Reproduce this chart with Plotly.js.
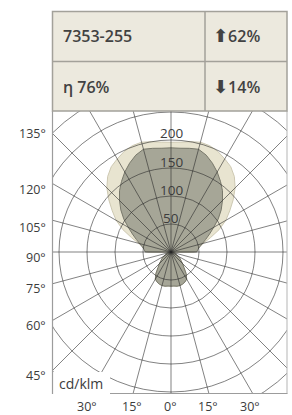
<!DOCTYPE html>
<html><head><meta charset="utf-8">
<script src="https://cdn.plot.ly/plotly-3.0.1.min.js"></script>
<style>
html,body{margin:0;padding:0;overflow:hidden;background:#fff;width:292px;height:415px}
#wrap{position:relative;width:292px;height:415px;overflow:hidden}
#chart{position:absolute;left:-60px;top:-40px;width:480px;height:500px}
</style>
</head><body><div id="wrap"><div id="chart"></div></div>
<script>
// ---- data (cd/klm per angle, 0° = straight down, 180° = straight up)
const angles = [0,5,10,15,20,25,30,35,40,45,50,55,60,65,70,75,80,85,90,95,100,105,110,115,120,125,130,135,140,145,150,155,160,165,170,175,180];
const darkCd = [61,61,62,62,61,59,56,47,36,29,23,19,14,11,8,6,4,2,46,48,52,58,66,76,88,103,117,130,143,154,165,175,184,190,188,186,186];
const lightCd = [61,61,62,62,61,59,56,47,36,29,23,19,14,11,8,6,4,2,42,45,50,60,75,95,113,128,145,162,176,186,192,198,202,203,200,197,196];
const ringValues = [50,100,150,200];
const gridRings = [50,100,150,200,250,300];
const sideAngleLabels = ['135°','120°','105°','90°','75°','60°','45°'];
const bottomAngleLabels = ['30°','15°','0°','15°','30°'];
const luminaireCode = '7353-255';
const upShare = '62%';
const downShare = '14%';
const efficiency = '76%';
const unitLabel = 'cd/klm';

// ---- geometry (page pixels)
const OX = 60, OY = 40, W = 480, H = 500;
const CX = 171, CY = 252, PX_PER_CD = 0.56, RMAX = 335;
const X = p => (p + OX) / W;
const Y = p => 1 - (p + OY) / H;
const Rp = RMAX * PX_PER_CD;
const dom = {
  x: [(CX + OX - Rp) / W, (CX + OX + Rp) / W],
  y: [(H - (CY + OY) - Rp) / H, (H - (CY + OY) + Rp) / H]
};

function mirror(vals) {
  return {
    theta: angles.concat(angles.slice().reverse().map(a => 360 - a)),
    r: vals.concat(vals.slice().reverse())
  };
}
const L = mirror(lightCd), D = mirror(darkCd);

const traces = [
  {type:'scatterpolar', subplot:'polar', r:L.r, theta:L.theta, mode:'lines', fill:'toself',
   fillcolor:'#e8e4d0', line:{color:'#cdc8b2', width:1}, hoverinfo:'skip'},
  {type:'scatterpolar', subplot:'polar', r:D.r, theta:D.theta, mode:'lines', fill:'toself',
   fillcolor:'#a6a697', line:{color:'#77776a', width:1}, hoverinfo:'skip'},
  {type:'scatterpolar', subplot:'polar2', r:[], theta:[], mode:'lines', hoverinfo:'skip'}
];

const gridCol = 'rgba(40,40,40,0.58)';
function polarCfg(grid, bg) {
  return {
    domain: dom, bgcolor: bg,
    radialaxis: {range:[0,RMAX], tickvals:gridRings, showticklabels:false, ticks:'', showline:false,
                 showgrid:grid, gridcolor:gridCol, gridwidth:1, angle:0},
    angularaxis: {rotation:-90, direction:'counterclockwise', tickmode:'linear', tick0:0, dtick:15,
                  showticklabels:false, ticks:'', showline:false, showgrid:grid, gridcolor:gridCol, gridwidth:1}
  };
}

const white = '#ffffff', border = '#a3a19a';
const shapes = [
  {type:'rect', xref:'paper', yref:'paper', x0:X(-OX), x1:X(52), y0:Y(-OY), y1:Y(H-OY), fillcolor:white, line:{width:0}, layer:'above'},
  {type:'rect', xref:'paper', yref:'paper', x0:X(287), x1:X(W-OX), y0:Y(-OY), y1:Y(H-OY), fillcolor:white, line:{width:0}, layer:'above'},
  {type:'rect', xref:'paper', yref:'paper', x0:X(-OX), x1:X(W-OX), y0:Y(393.5), y1:Y(H-OY), fillcolor:white, line:{width:0}, layer:'above'},
  {type:'rect', xref:'paper', yref:'paper', x0:X(-OX), x1:X(W-OX), y0:Y(-OY), y1:Y(111), fillcolor:white, line:{width:0}, layer:'above'},
  {type:'rect', xref:'paper', yref:'paper', x0:X(52), x1:X(110), y0:Y(372), y1:Y(395), fillcolor:white, line:{width:0}, layer:'above'},
  {type:'line', xref:'paper', yref:'paper', x0:X(52.5), x1:X(52.5), y0:Y(111), y1:Y(394), line:{color:'#9c9c9c', width:1.2}, layer:'above'},
  {type:'line', xref:'paper', yref:'paper', x0:X(287), x1:X(287), y0:Y(111), y1:Y(393.5), line:{color:'#b5b5b5', width:1}, layer:'above'},
  {type:'line', xref:'paper', yref:'paper', x0:X(110), x1:X(287.5), y0:Y(393.5), y1:Y(393.5), line:{color:'#9c9c9c', width:1.2}, layer:'above'},
  {type:'rect', xref:'paper', yref:'paper', x0:X(52.5), x1:X(287), y0:Y(11.5), y1:Y(111), fillcolor:'#ece9de', line:{color:border, width:1.5}, layer:'above'},
  {type:'line', xref:'paper', yref:'paper', x0:X(52.5), x1:X(287), y0:Y(61.5), y1:Y(61.5), line:{color:border, width:1.5}, layer:'above'},
  {type:'line', xref:'paper', yref:'paper', x0:X(205), x1:X(205), y0:Y(11.5), y1:Y(111), line:{color:border, width:1.5}, layer:'above'}
];

const FF = '"Open Sans", "Noto Sans", sans-serif';
const txt = '#3c3c3c';
function ann(text, px, py, size, anchor, extra) {
  return Object.assign({xref:'paper', yref:'paper', x:X(px), y:Y(py), text:text, showarrow:false,
    xanchor:anchor, yanchor:'middle', font:{family:FF, size:size, color:txt}}, extra || {});
}
const headFont = {family:FF, size:16, color:'#424242', weight:600};
const arrowSpan = g => '<span style="font-family:DejaVu Sans;font-size:18px">' + g + '</span>';
const annotations = [
  ann(luminaireCode, 61, 36, 16, 'left', {font:headFont}),
  ann(arrowSpan('⬆') + upShare, 211, 36, 16, 'left', {font:headFont}),
  ann('η ' + efficiency, 61, 87, 16, 'left', {font:headFont}),
  ann(arrowSpan('⬇') + downShare, 211, 87, 16, 'left', {font:headFont}),
  ann(unitLabel, 57, 383, 14, 'left')
];
const sideY = [133, 190, 227, 257, 288, 325, 375];
sideAngleLabels.forEach((t, i) => annotations.push(ann(t, 48, sideY[i], 12.5, 'right')));
const bottomX = [87, 132, 170, 208, 250];
bottomAngleLabels.forEach((t, i) => annotations.push(ann(t, bottomX[i], 406, 12.5, 'center')));
const ringY = [218, 190, 161.5, 133];
ringValues.forEach((v, i) => annotations.push(ann(String(v), CX, ringY[i], 13.5, 'center')));

const layout = {
  width: W, height: H, margin:{l:0, r:0, t:0, b:0},
  paper_bgcolor:'#ffffff', showlegend:false,
  polar: polarCfg(false, '#ffffff'),
  polar2: polarCfg(true, 'rgba(0,0,0,0)'),
  shapes: shapes, annotations: annotations
};
Plotly.newPlot('chart', traces, layout, {staticPlot:true, displayModeBar:false});
</script>
</body></html>
